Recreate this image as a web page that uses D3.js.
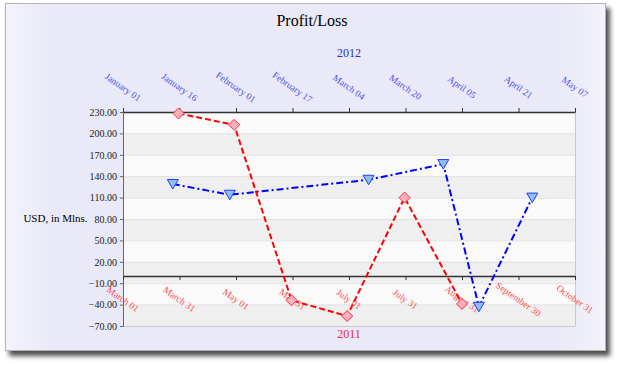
<!DOCTYPE html>
<html>
<head>
<meta charset="utf-8">
<script src="https://cdn.jsdelivr.net/npm/d3@7"></script>
<style>
  body { margin: 0; background: #fff; }
  svg text { font-family: "Liberation Serif", "Times New Roman", serif; }
</style>
</head>
<body>
<div id="chart"></div>
<script>
// 2011 series (bottom axis, red)
const lossDates = ["2011-03-31", "2011-04-30", "2011-05-31", "2011-06-30", "2011-07-31", "2011-08-31"];
const lossValues = [228, 212, -34, -56, 110, -39];
// 2012 series (top axis, blue)
const profitDates = ["2012-01-15", "2012-01-31", "2012-03-10", "2012-03-31", "2012-04-10", "2012-04-25"];
const profitValues = [129, 114, 135, 157, -43, 110];

const bottomDomain = ["2011-03-01", "2011-10-31"];
const topDomain = ["2012-01-01", "2012-05-07"];
const bottomLabels = ["March 01", "March 31", "May 01", "May 31", "July 01", "July 31", "August 31", "September 30", "October 31"];
const topLabels = ["January 01", "January 16", "February 01", "February 17", "March 04", "March 20", "April 05", "April 21", "May 07"];
const yTicks = [230, 200, 170, 140, 110, 80, 50, 20, -10, -40, -70];

const width = 630, height = 366;
const plot = { left: 123, right: 575, top: 112, bottom: 326 };
const parse = d3.utcParse("%Y-%m-%d");

const svg = d3.select("#chart").append("svg")
    .attr("width", width)
    .attr("height", height);

const defs = svg.append("defs");
const shadow = defs.append("filter").attr("id", "shadow")
    .attr("x", "-5%").attr("y", "-5%").attr("width", "115%").attr("height", "120%");
shadow.append("feGaussianBlur").attr("in", "SourceAlpha").attr("stdDeviation", 2.5);
shadow.append("feOffset").attr("dx", 4).attr("dy", 5).attr("result", "off");
shadow.append("feComponentTransfer").append("feFuncA").attr("type", "linear").attr("slope", 0.7);
const merge = shadow.append("feMerge");
merge.append("feMergeNode");
merge.append("feMergeNode").attr("in", "SourceGraphic");

const bg = defs.append("linearGradient").attr("id", "bg");
bg.append("stop").attr("offset", "0%").attr("stop-color", "#f3f3fb");
bg.append("stop").attr("offset", "8%").attr("stop-color", "#e9e9f7");
bg.append("stop").attr("offset", "92%").attr("stop-color", "#e9e9f7");
bg.append("stop").attr("offset", "100%").attr("stop-color", "#f3f3fb");

// frame
svg.append("rect")
    .attr("x", 5.5).attr("y", 3.5)
    .attr("width", 600).attr("height", 347)
    .attr("fill", "url(#bg)")
    .attr("stroke", "#b4b4b4")
    .attr("filter", "url(#shadow)");

const x2011 = d3.scaleUtc().domain(bottomDomain.map(parse)).range([plot.left, plot.right]);
const x2012 = d3.scaleUtc().domain(topDomain.map(parse)).range([plot.left, plot.right]);
const y = d3.scaleLinear().domain([-70, 230]).range([plot.bottom, plot.top]);

// evenly spaced ticks across each time domain
function evenTicks(scale, n) {
    const [a, b] = scale.domain();
    return d3.range(n).map(i => new Date(+a + i * (b - a) / (n - 1)));
}
const bottomTicks = evenTicks(x2011, bottomLabels.length);
const topTicks = evenTicks(x2012, topLabels.length);

// alternating bands
const bands = d3.pairs(yTicks);
svg.append("g").selectAll("rect")
    .data(bands)
    .enter().append("rect")
    .attr("x", plot.left)
    .attr("y", d => y(d[0]))
    .attr("width", plot.right - plot.left)
    .attr("height", d => y(d[1]) - y(d[0]))
    .attr("fill", (d, i) => i % 2 === 0 ? "#fafafa" : "#efefef");

svg.append("g").selectAll("line")
    .data(yTicks)
    .enter().append("line")
    .attr("x1", plot.left).attr("x2", plot.right)
    .attr("y1", d => y(d) + 0.5).attr("y2", d => y(d) + 0.5)
    .attr("stroke", "#e2e2e2");

// plot border (right, bottom)
svg.append("path")
    .attr("d", `M${plot.right + 0.5},${plot.top}V${plot.bottom + 0.5}H${plot.left}`)
    .attr("fill", "none")
    .attr("stroke", "#c8c8c8");

// left axis
const yAxis = svg.append("g")
    .attr("transform", `translate(${plot.left},0)`)
    .call(d3.axisLeft(y).tickValues(yTicks).tickSize(3).tickFormat(d3.format(".2f")));
yAxis.select(".domain").attr("stroke", "#666");
yAxis.selectAll(".tick line").attr("stroke", "#666");
yAxis.selectAll("text").attr("font-size", 10).attr("fill", "#222")
    .attr("font-family", "Liberation Serif, serif");

// top axis (2012)
const topAxis = svg.append("g")
    .attr("transform", `translate(0,${plot.top})`)
    .call(d3.axisTop(x2012).tickValues(topTicks).tickSize(4).tickSizeOuter(0).tickFormat(""));
topAxis.select(".domain").attr("stroke", "#333").attr("stroke-width", 1.5);
topAxis.selectAll(".tick line").attr("stroke", "#333");
svg.append("g").selectAll("text")
    .data(topTicks)
    .enter().append("text")
    .attr("transform", d => `translate(${x2012(d)},${plot.top - 25}) rotate(35)`)
    .attr("text-anchor", "middle")
    .attr("dy", "0.35em")
    .attr("font-size", 9.5)
    .attr("fill", "#5050f0")
    .text((d, i) => topLabels[i]);

// bottom axis (2011) along zero line
const zeroY = y(0);
const bottomAxis = svg.append("g")
    .attr("transform", `translate(0,${zeroY})`)
    .call(d3.axisBottom(x2011).tickValues(bottomTicks).tickSize(4).tickSizeOuter(0).tickFormat(""));
bottomAxis.select(".domain").attr("stroke", "#333").attr("stroke-width", 1.5);
bottomAxis.selectAll(".tick line").attr("stroke", "#333");
svg.append("g").selectAll("text")
    .data(bottomTicks)
    .enter().append("text")
    .attr("transform", d => `translate(${x2011(d)},${zeroY + 23}) rotate(35)`)
    .attr("text-anchor", "middle")
    .attr("dy", "0.35em")
    .attr("font-size", 9.5)
    .attr("fill", "#ff4a4a")
    .text((d, i) => bottomLabels[i]);

// titles
svg.append("text")
    .attr("x", 312).attr("y", 26)
    .attr("text-anchor", "middle")
    .attr("font-size", 16)
    .attr("fill", "#000")
    .text("Profit/Loss");
svg.append("text")
    .attr("x", (plot.left + plot.right) / 2).attr("y", 57)
    .attr("text-anchor", "middle")
    .attr("font-size", 12)
    .attr("fill", "#2a2ae6")
    .text("2012");
svg.append("text")
    .attr("x", (plot.left + plot.right) / 2).attr("y", 338)
    .attr("text-anchor", "middle")
    .attr("font-size", 12)
    .attr("fill", "#e8283c")
    .text("2011");
svg.append("text")
    .attr("x", 55.5).attr("y", 222)
    .attr("text-anchor", "middle")
    .attr("font-size", 11)
    .attr("fill", "#000")
    .text("USD, in Mlns.");

// series
const profit = profitDates.map((d, i) => ({ date: parse(d), value: profitValues[i] }));
const loss = lossDates.map((d, i) => ({ date: parse(d), value: lossValues[i] }));

svg.append("path")
    .datum(profit)
    .attr("fill", "none")
    .attr("stroke", "#0000ff")
    .attr("stroke-width", 2)
    .attr("stroke-dasharray", "7,3,2,3")
    .attr("d", d3.line().x(d => x2012(d.date)).y(d => y(d.value)));

svg.append("path")
    .datum(loss)
    .attr("fill", "none")
    .attr("stroke", "#ff0000")
    .attr("stroke-width", 2)
    .attr("stroke-dasharray", "6,3")
    .attr("d", d3.line().x(d => x2011(d.date)).y(d => y(d.value)));

svg.append("g").selectAll("path")
    .data(profit)
    .enter().append("path")
    .attr("transform", d => `translate(${x2012(d.date)},${y(d.value)})`)
    .attr("d", "M-5.5,-4.5L5.5,-4.5L0,5Z")
    .attr("fill", "#8ec0f4")
    .attr("stroke", "#1f3cff")
    .attr("stroke-width", 1);

svg.append("g").selectAll("path")
    .data(loss)
    .enter().append("path")
    .attr("transform", d => `translate(${x2011(d.date)},${y(d.value)})`)
    .attr("d", "M0,-5.5L5.5,0L0,5.5L-5.5,0Z")
    .attr("fill", "#ffb0bc")
    .attr("stroke", "#ff2a3a")
    .attr("stroke-width", 1);
</script>
</body>
</html>
